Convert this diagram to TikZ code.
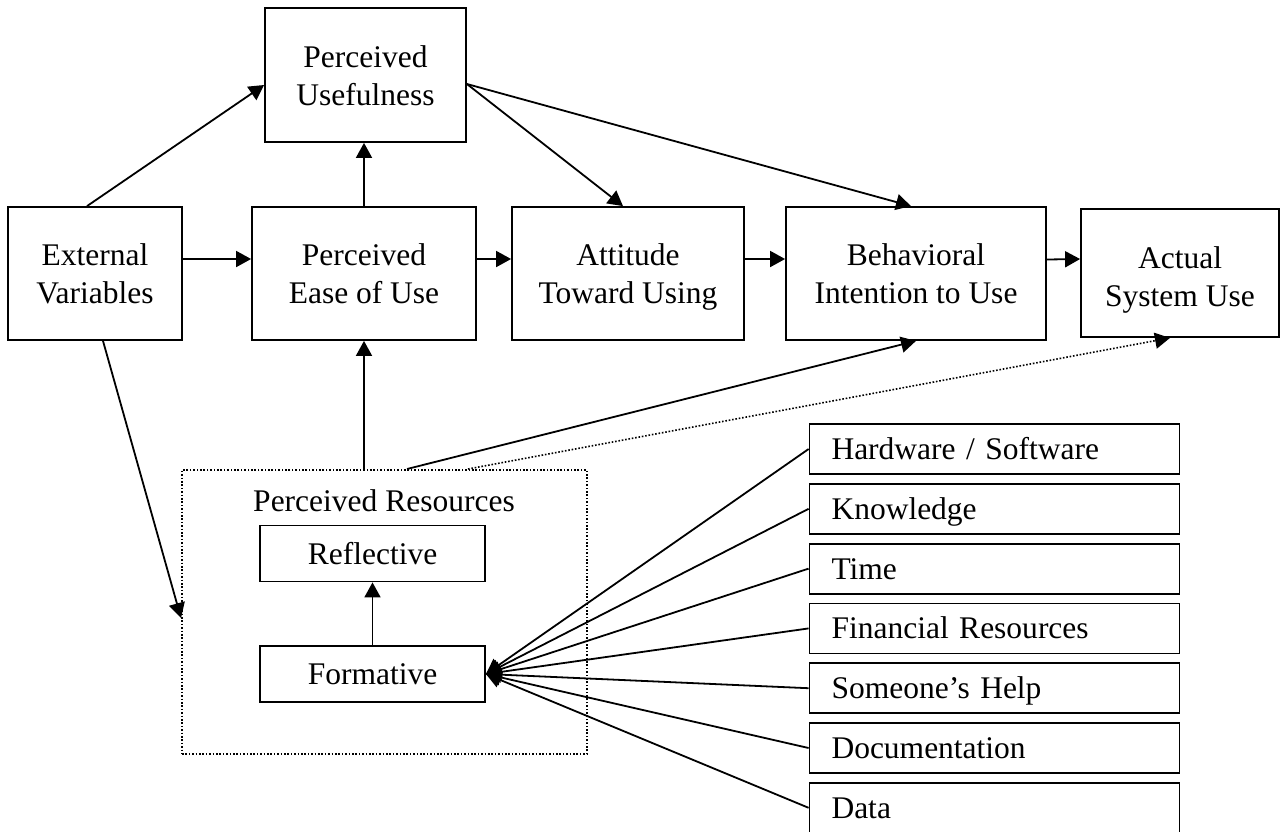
\documentclass[tikz,border=0pt]{standalone}
\usepackage{fontspec}
\setmainfont{Liberation Serif}
\usetikzlibrary{arrows.meta,positioning}

\begin{document}
\begin{tikzpicture}[->,>={Triangle[length=7.5pt,width=8pt]},line width=0.9pt,x=0.5pt,y=-0.5pt,node distance=4pt]
  \tikzstyle{every node}=[font=\fontsize{15.75}{19}\selectfont]
  \tikzstyle{tam}=[draw,align=center,minimum height=66.5pt,inner sep=0pt,text height=30pt,text depth=0pt]
  \tikzstyle{inner box}=[draw,minimum width=112.5pt,minimum height=28pt,inner sep=0pt,text height=10.5pt,text depth=0pt]
  \tikzstyle{resource}=[draw,text width=163pt,inner xsep=11pt,inner ysep=0pt,minimum height=25pt,align=left,text height=10.5pt,text depth=0pt]
  \tikzstyle{dots}=[line width=1pt,dash pattern=on 0.8pt off 0.9pt]
  \useasboundingbox (0,0) rectangle (1288,831);

  \node[tam,minimum width=100.5pt,minimum height=67pt] (pu) at (365.5,75) {Perceived\\Usefulness};
  \node[tam,minimum width=87pt]  (ev)  at (95,273.5)  {External\\Variables};
  \node[tam,minimum width=112pt] (peu) at (364,273.5) {Perceived\\Ease of Use};
  \node[tam,minimum width=116pt] (atu) at (628,273.5) {Attitude\\Toward Using};
  \node[tam,minimum width=130pt] (bi)  at (916,273.5) {Behavioral\\Intention to Use};
  \node[tam,minimum width=99pt,minimum height=64pt,text height=33.5pt] (asu) at (1180,273) {Actual\\System Use};

  \node[draw,dots,minimum width=202.5pt,minimum height=142pt] (res) at (384.5,612) {};
  \node (reslabel) at (384,501) {Perceived Resources};
  \node[inner box] (refl) at (372.5,553.5) {Reflective};
  \node[inner box] (form) at (372.5,674) {Formative};

  \node[resource]              (hw)   at (994.5,449) {Hardware / Software};
  \node[resource,below=of hw]   (know) {Knowledge};
  \node[resource,below=of know] (time) {Time};
  \node[resource,below=of time] (fin)  {Financial Resources};
  \node[resource,below=of fin]  (help) {Someone’s Help};
  \node[resource,below=of help] (doc)  {Documentation};
  \node[resource,below=of doc]  (data) {Data};

  \path ([xshift=-4pt]ev.north)      edge ([yshift=-5pt]pu.west)
        ([yshift=7.25pt]ev.east)     edge ([yshift=7.25pt]peu.west)
        ([xshift=4pt]ev.south)       edge ([yshift=-3pt]res.west)
        (peu.north)                  edge (peu.north |- pu.south)
        ([yshift=7.25pt]peu.east)    edge ([yshift=7.25pt]atu.west)
        ([yshift=-4.5pt]pu.east)     edge ([xshift=-2.5pt]atu.north)
        ([yshift=-4.5pt]pu.east)     edge ([xshift=-2.5pt]bi.north)
        ([yshift=7.25pt]atu.east)    edge ([yshift=7.25pt]bi.west)
        ([yshift=7pt]bi.east)        edge ([yshift=7pt]asu.west)
        (res.north -| peu.south)     edge (peu.south)
        ([xshift=11.25pt]res.north)  edge (bi.south)
        ([xshift=41.75pt]res.north)  edge[dots,line width=0.8pt] ([xshift=-5pt]asu.south)
        (form.north)                 edge (refl.south);

  \foreach \r in {hw,know,time,fin,help,doc,data}
    \draw (\r.west) -- (form.east);
\end{tikzpicture}
\end{document}
